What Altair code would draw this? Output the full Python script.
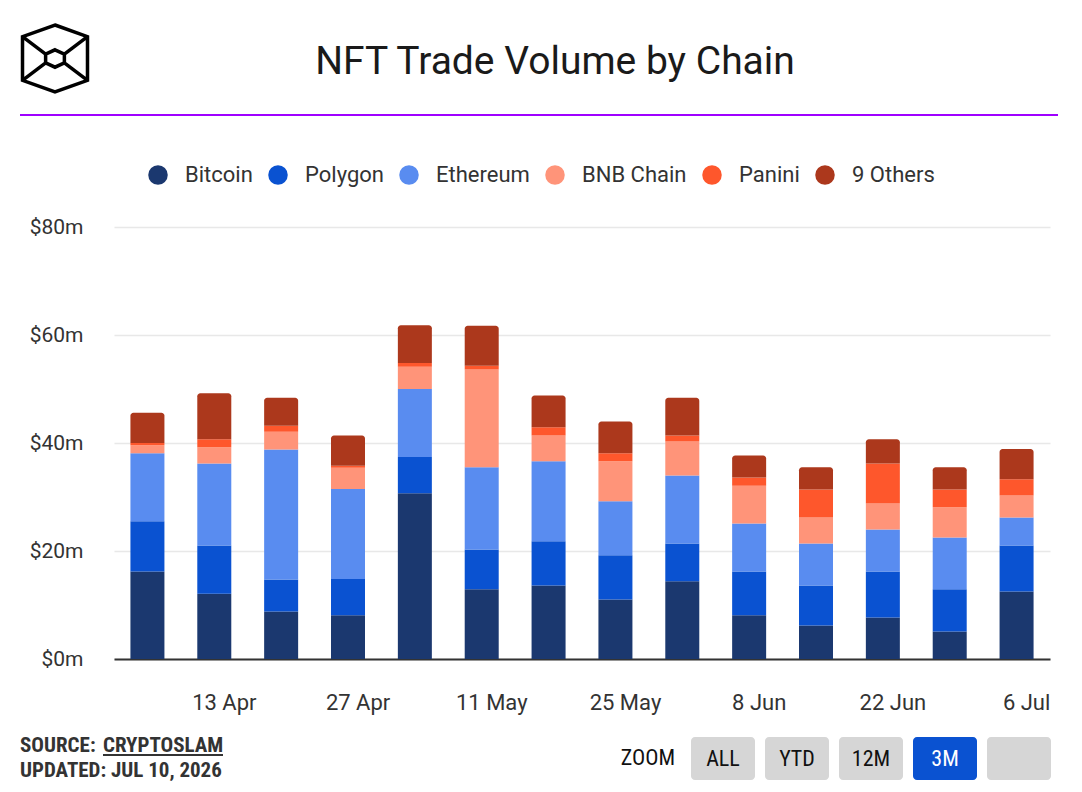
import altair as alt
import pandas as pd

# ---------------- data ----------------
weeks = ["2026-04-05", "2026-04-12", "2026-04-19", "2026-04-26", "2026-05-03",
         "2026-05-10", "2026-05-17", "2026-05-24", "2026-05-31", "2026-06-07",
         "2026-06-14", "2026-06-21", "2026-06-28", "2026-07-05"]
chains = ["Bitcoin", "Polygon", "Ethereum", "BNB Chain", "Panini", "9 Others"]
bitcoin = [16.2, 12.1, 8.8, 8.1, 30.7, 12.9, 13.6, 11.0, 14.4, 8.1, 6.2, 7.7, 5.1, 12.5]
polygon = [9.3, 8.9, 5.9, 6.7, 6.7, 7.4, 8.2, 8.2, 7.0, 8.1, 7.4, 8.5, 7.8, 8.5]
ethereum = [12.6, 15.2, 24.1, 16.7, 12.6, 15.2, 14.8, 10.0, 12.6, 8.9, 7.8, 7.8, 9.6, 5.2]
bnb_chain = [1.5, 3.0, 3.3, 3.9, 4.1, 18.1, 4.8, 7.4, 6.3, 7.0, 4.8, 4.8, 5.6, 4.1]
panini = [0.4, 1.5, 1.1, 0.4, 0.7, 0.7, 1.5, 1.5, 1.1, 1.5, 5.2, 7.4, 3.3, 3.0]
others = [5.6, 8.5, 5.2, 5.6, 7.0, 7.4, 5.9, 5.9, 7.0, 4.1, 4.1, 4.5, 4.1, 5.6]
colors = ["#1b386f", "#0a52d1", "#598cf0", "#ff9479", "#fe572c", "#ac381c"]
y_ticks = [0, 20, 40, 60, 80]
x_ticks = ["2026-04-13", "2026-04-27", "2026-05-11", "2026-05-25",
           "2026-06-08", "2026-06-22", "2026-07-06"]
x_range = ["2026-04-01 12:00", "2026-07-08 12:00"]
title_text = "NFT Trade Volume by Chain"
source_label = "SOURCE:"
source_name = "CRYPTOSLAM"
updated_text = "UPDATED: JUL 10, 2026"
button_labels = ["ALL", "YTD", "12M", "3M", ""]
active_button = "3M"

series = [bitcoin, polygon, ethereum, bnb_chain, panini, others]
rows = []
for order, (name, vals) in enumerate(zip(chains, series)):
    for w, v in zip(weeks, vals):
        rows.append({"week": w, "chain": name, "value": v, "order": order})
df = pd.DataFrame(rows)


def ms(s):
    return int(pd.Timestamp(s, tz="UTC").timestamp() * 1000)


# ---------------- layout (plot origin = page 114,227) ----------------
W, H = 936, 432
OX, OY = 114, 227
FONT = "Roboto"
COND = "'Roboto Condensed', 'Liberation Sans Narrow', 'Arial Narrow', Roboto, sans-serif"


def px(x):
    return x - OX


def py(y):
    return y - OY


color_scale = alt.Scale(domain=chains, range=colors)
legend = alt.Legend(orient="none", legendX=33, legendY=-63, direction="horizontal",
                    title=None, symbolType="circle", symbolSize=380,
                    symbolStrokeWidth=0, symbolOpacity=1,
                    labelFont=FONT, labelFontSize=22, labelColor="#333333",
                    labelOffset=16, columnPadding=14, padding=0)

x_enc = alt.X("week:T",
              scale=alt.Scale(type="utc", domain=[ms(d) for d in x_range],
                              nice=False, padding=0),
              axis=alt.Axis(values=[ms(d) for d in x_ticks],
                            labelExpr="utcFormat(datum.value, '%-d %b')", title=None,
                            labelFont=FONT, labelFontSize=22, labelColor="#333333",
                            labelPadding=33, ticks=False, grid=False,
                            domainColor="#333333", domainWidth=2))
y_enc = alt.Y("y0:Q",
              scale=alt.Scale(domain=[0, 80], nice=False),
              axis=alt.Axis(values=y_ticks, labelExpr="'$' + datum.value + 'm'",
                            title=None, labelFont=FONT, labelFontSize=21,
                            labelColor="#333333", labelPadding=31, ticks=False,
                            domain=False, gridColor="#e8e8e8", gridWidth=1.5))

base = (alt.Chart(df)
        .transform_window(y1="sum(value)", frame=[None, 0],
                          sort=[alt.SortField("order")], groupby=["week"])
        .transform_calculate(y0="datum.y1 - datum.value"))

lower = base.transform_filter("datum.chain != '9 Others'").mark_bar(width=34).encode(
    x=x_enc, y=y_enc, y2="y1:Q",
    color=alt.Color("chain:N", scale=color_scale, legend=legend, sort=chains))
upper = base.transform_filter("datum.chain == '9 Others'").mark_bar(
    width=34, cornerRadiusTopLeft=3, cornerRadiusTopRight=3).encode(
    x=x_enc, y=y_enc, y2="y1:Q",
    color=alt.Color("chain:N", scale=color_scale, legend=legend, sort=chains))

one = alt.Data(values=[{"k": 1}])

title = alt.Chart(one).mark_text(text=title_text, font=FONT, fontSize=39, color="#1a1a1a",
                                 align="center", baseline="middle").encode(
    x=alt.value(px(555)), y=alt.value(py(62)))

logo_path = ("M0,-1L0.97,-0.65L0.97,0.65L0,1L-0.97,0.65L-0.97,-0.65Z"
             "M0,-0.26L0.28,-0.13L0.28,0.13L0,0.26L-0.28,0.13L-0.28,-0.13Z"
             "M-0.97,-0.65L-0.28,-0.13M0.97,-0.65L0.28,-0.13"
             "M-0.97,0.65L-0.28,0.13M0.97,0.65L0.28,0.13")
logo = alt.Chart(one).mark_point(shape=logo_path, size=4489, filled=False,
                                 stroke="#000000", strokeWidth=3.5, opacity=1,
                                 strokeJoin="miter").encode(
    x=alt.value(px(55)), y=alt.value(py(58.5)))

purple = alt.Chart(one).mark_rule(color="#9f00ff", strokeWidth=2).encode(
    x=alt.value(px(20)), x2=alt.value(px(1058)), y=alt.value(py(115)))

FS = 21
src1 = alt.Chart(one).mark_text(text=source_label, font=COND, fontSize=FS, fontWeight="bold",
                                color="#333333", align="left", baseline="middle").encode(
    x=alt.value(px(20)), y=alt.value(py(746)))
src2 = alt.Chart(one).mark_text(text=source_name, font=COND, fontSize=FS, fontWeight="bold",
                                color="#333333", align="left", baseline="middle").encode(
    x=alt.value(px(103)), y=alt.value(py(746)))
underline = alt.Chart(one).mark_rule(color="#333333", strokeWidth=2).encode(
    x=alt.value(px(103)), x2=alt.value(px(223)), y=alt.value(py(755)))
upd = alt.Chart(one).mark_text(text=updated_text, font=COND, fontSize=FS, fontWeight="bold",
                               color="#333333", align="left", baseline="middle").encode(
    x=alt.value(px(20)), y=alt.value(py(771)))
zoom_lbl = alt.Chart(one).mark_text(text="ZOOM", font=COND, fontSize=22,
                                    color="#111111", align="center", baseline="middle").encode(
    x=alt.value(px(648)), y=alt.value(py(758)))

layers = [lower, upper, title, logo, purple, src1, src2, underline, upd, zoom_lbl]
for i, lab in enumerate(button_labels):
    x0 = 691 + i * 74
    active = lab == active_button
    layers.append(alt.Chart(one).mark_rect(cornerRadius=4,
                                           color="#0a52d1" if active else "#d6d6d6").encode(
        x=alt.value(px(x0)), x2=alt.value(px(x0 + 64)),
        y=alt.value(py(737)), y2=alt.value(py(780))))
    if lab:
        layers.append(alt.Chart(one).mark_text(text=lab, font=COND, fontSize=22,
                                               color="#ffffff" if active else "#111111",
                                               align="center", baseline="middle").encode(
            x=alt.value(px(x0 + 32)), y=alt.value(py(759))))

chart = (alt.layer(*layers)
         .properties(width=W, height=H,
                     autosize=alt.AutoSizeParams(type="none"),
                     padding={"left": OX - 8, "top": OY - 8,
                              "right": 1066 - (OX - 8) - W, "bottom": 776 - (OY - 8) - H},
                     background="#ffffff")
         .configure_view(stroke=None))

chart.save("out.html", embed_options={"renderer": "svg", "actions": False})
